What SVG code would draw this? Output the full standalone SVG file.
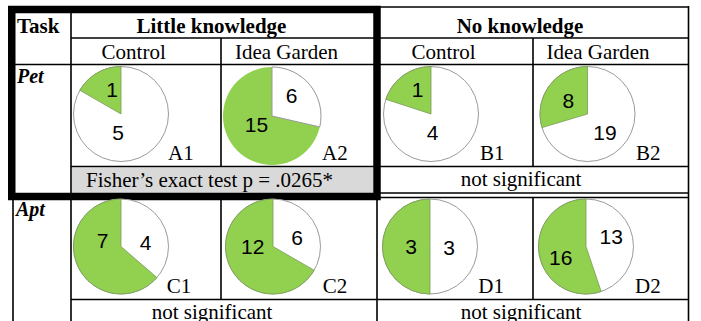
<svg xmlns="http://www.w3.org/2000/svg" width="701" height="321" viewBox="0 0 701 321">
<style>
.ln{stroke:#000;stroke-width:1.6;fill:none}
.hd{font-family:"Liberation Serif",serif;font-size:21px;font-weight:bold;fill:#000}
.tx{font-family:"Liberation Serif",serif;font-size:21px;fill:#000}
.bi{font-family:"Liberation Serif",serif;font-size:20px;font-weight:bold;font-style:italic;fill:#000}
.num{font-family:"Liberation Sans",sans-serif;font-size:21px;fill:#000;text-anchor:middle}
.pie{fill:#fff;stroke:#9a9a9a;stroke-width:1}
.grn{fill:#92d050;stroke:#7a9a5a;stroke-width:0.8}
.mid{text-anchor:middle}
</style>
<rect width="701" height="321" fill="#fff"/>
<rect id="fisher-bg" x="72" y="167.5" width="301" height="26" fill="#d9d9d9"/>
<g id="grid" class="ln">
<path d="M377 7H688.5M688.5 6V321"/>
<path d="M71 9V193M71 197V321"/>
<path d="M71 38H688.5"/>
<path d="M12 64.5H688.5"/>
<path d="M221 38V167M533 38V167"/>
<path d="M71 166.5H688.5"/>
<path d="M377 193H688.5"/>
<path d="M13 197.5H688.5"/>
<path d="M13 197V321M377 197V321M221 197V299M533 197V299"/>
<path d="M71 299.5H688.5"/>
</g>
<rect id="highlight" x="11.75" y="9.5" width="365.25" height="187" fill="none" stroke="#000" stroke-width="7.5"/>
<g id="headers">
<text class="hd" x="17" y="33">Task</text>
<text class="hd mid" x="211.5" y="33">Little knowledge</text>
<text class="hd mid" x="520" y="33">No knowledge</text>
<text class="tx mid" x="133.7" y="59">Control</text>
<text class="tx mid" x="286.5" y="59">Idea Garden</text>
<text class="tx mid" x="443.5" y="59">Control</text>
<text class="tx mid" x="598" y="59">Idea Garden</text>
<text class="bi" x="17" y="83">Pet</text>
<text class="bi" x="16" y="216">Apt</text>
</g>
<g id="A1">
<circle class="pie" cx="121" cy="114" r="47.5"/>
<path class="grn" d="M121 114L121 66.5A47.5 47.5 0 0 0 79.86 90.25Z"/>
<text class="num" x="112" y="97">1</text>
<text class="num" x="118" y="139.5">5</text>
<text class="tx" x="168" y="160">A1</text>
</g>
<g id="A2">
<circle cx="272" cy="116" r="49" fill="#92d050"/>
<path class="pie" d="M272 116L272 67A49 49 0 0 1 319.77 126.9Z"/>
<text class="num" x="291.5" y="102.5">6</text>
<text class="num" x="256.5" y="131.5">15</text>
<text class="tx" x="322" y="160">A2</text>
</g>
<g id="B1">
<circle class="pie" cx="431" cy="114" r="47.5"/>
<path class="grn" d="M431 114L431 66.5A47.5 47.5 0 0 0 385.82 99.32Z"/>
<text class="num" x="417.5" y="96.5">1</text>
<text class="num" x="432.5" y="139.5">4</text>
<text class="tx" x="480" y="160">B1</text>
</g>
<g id="B2">
<circle class="pie" cx="587.5" cy="114" r="47.5"/>
<path class="grn" d="M587.5 114L587.5 66.5A47.5 47.5 0 0 0 541.99 127.62Z"/>
<text class="num" x="568.3" y="107.5">8</text>
<text class="num" x="605" y="139.5">19</text>
<text class="tx" x="636" y="160">B2</text>
</g>
<g id="fisher">
<text class="tx" x="86" y="187">Fisher’s exact test p = .0265*</text>
</g>
<g id="pet-nk-test">
<text class="tx mid" x="521" y="185.5">not significant</text>
</g>
<g id="C1">
<circle class="pie" cx="121" cy="246.5" r="47.5"/>
<path class="grn" d="M121 246.5L121 199A47.5 47.5 0 1 0 156.9 277.61Z"/>
<text class="num" x="102.5" y="248">7</text>
<text class="num" x="145.5" y="250">4</text>
<text class="tx" x="166.7" y="293">C1</text>
</g>
<g id="C2">
<circle class="pie" cx="273" cy="246.5" r="47.5"/>
<path class="grn" d="M273 246.5L273 199A47.5 47.5 0 1 0 314.14 270.25Z"/>
<text class="num" x="252.8" y="254">12</text>
<text class="num" x="297" y="245">6</text>
<text class="tx" x="322.7" y="293">C2</text>
</g>
<g id="D1">
<circle class="pie" cx="430" cy="246.5" r="47.5"/>
<path class="grn" d="M430 246.5L430 199A47.5 47.5 0 0 0 430 294Z"/>
<text class="num" x="411" y="253.5">3</text>
<text class="num" x="449" y="254.5">3</text>
<text class="tx" x="478.3" y="292.7">D1</text>
</g>
<g id="D2">
<circle class="pie" cx="586" cy="246.5" r="47.5"/>
<path class="grn" d="M586 246.5L586 199A47.5 47.5 0 1 0 601.17 291.52Z"/>
<text class="num" x="611.3" y="243.5">13</text>
<text class="num" x="560.8" y="265">16</text>
<text class="tx" x="635" y="292.7">D2</text>
</g>
<g id="apt-tests">
<text class="tx mid" x="212" y="319">not significant</text>
<text class="tx mid" x="521" y="319">not significant</text>
</g>
</svg>
